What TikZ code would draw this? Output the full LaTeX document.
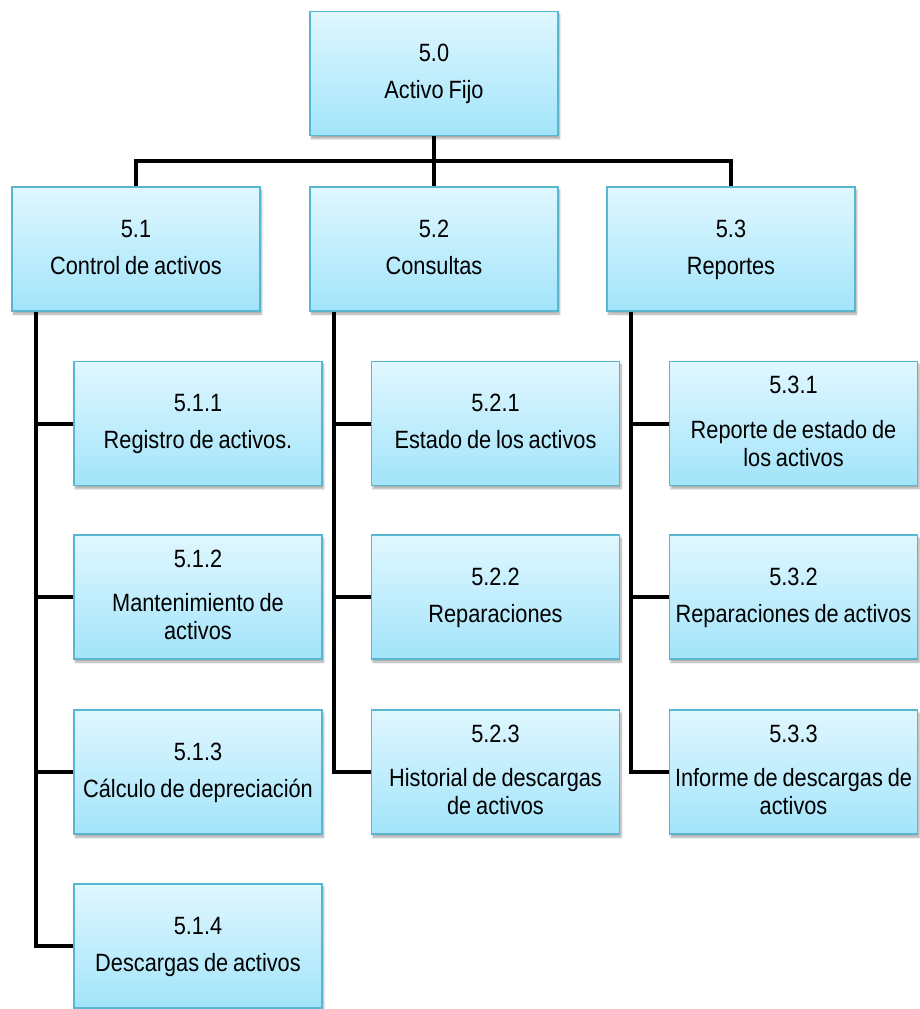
\documentclass[tikz,border=0pt]{standalone}
\usepackage{fontspec}
\setmainfont[FakeStretch=0.87, WordSpace=0.8]{Liberation Sans}
\usetikzlibrary{shadows.blur}

\definecolor{boxtop}{RGB}{224,247,255}
\definecolor{boxbot}{RGB}{162,228,250}
\definecolor{boxline}{RGB}{88,182,206}

% struts that keep the text blocks of all boxes at the same height
\newcommand{\topstr}{\rule{0pt}{20pt}}
\newcommand{\botstr}{\rule[-7pt]{0pt}{7pt}}
\newcommand{\one}[2]{\topstr#1\\[9pt]#2\botstr}
\newcommand{\two}[3]{\topstr#1\\[16.5pt]#2\\#3\botstr}

\tikzset{
  wbs/.style={draw=boxline, line width=1.2pt, top color=boxtop, bottom color=boxbot,
    minimum width=248pt, minimum height=124pt, inner sep=0pt,
    align=center, font=\fontsize{25}{28}\selectfont,
    blur shadow={shadow xshift=1.5pt, shadow yshift=-3pt, shadow blur steps=6, shadow opacity=35}},
  link/.style={line width=4pt, draw=black},
}

\begin{document}
\begin{tikzpicture}[x=1pt, y=-1pt]
  \useasboundingbox (0,0) rectangle (920,1009);

  % root and first level
  \node[wbs] (n50) at (434,73.5) {\one{5.0}{Activo Fijo}};
  \node[wbs] (n51) at (136,249) {\one{5.1}{Control de activos}};
  \node[wbs] (n52) at (434,249) {\one{5.2}{Consultas}};
  \node[wbs] (n53) at (731,249) {\one{5.3}{Reportes}};

  % control de activos
  \node[wbs] (n511) at (198,423.5) {\one{5.1.1}{Registro de activos.}};
  \node[wbs] (n512) at (198,597) {\two{5.1.2}{Mantenimiento de}{activos}};
  \node[wbs] (n513) at (198,772) {\one{5.1.3}{C\'alculo de depreciaci\'on}};
  \node[wbs] (n514) at (198,946) {\one{5.1.4}{Descargas de activos}};

  % consultas
  \node[wbs] (n521) at (495.5,423.5) {\one{5.2.1}{Estado de los activos}};
  \node[wbs] (n522) at (495.5,597) {\one{5.2.2}{Reparaciones}};
  \node[wbs] (n523) at (495.5,772) {\two{5.2.3}{Historial de descargas}{de activos}};

  % reportes
  \node[wbs] (n531) at (793.5,423.5) {\two{5.3.1}{Reporte de estado de}{los activos}};
  \node[wbs] (n532) at (793.5,597) {\one{5.3.2}{Reparaciones de activos}};
  \node[wbs] (n533) at (793.5,772) {\two{5.3.3}{Informe de descargas de}{activos}};

  % root to first level
  \coordinate (bus) at (434,161);
  \draw[link] (n50.south) -- (n52.north);
  \draw[link] (n51.north) |- (bus) -| (n53.north);

  % spines of each column
  \coordinate (s1) at ([xshift=25pt]n51.south west);
  \coordinate (s2) at ([xshift=25pt]n52.south west);
  \coordinate (s3) at ([xshift=25pt]n53.south west);

  \draw[link] (s1) |- (n514.west);
  \draw[link] (s1 |- n511.west) -- (n511.west);
  \draw[link] (s1 |- n512.west) -- (n512.west);
  \draw[link] (s1 |- n513.west) -- (n513.west);

  \draw[link] (s2) |- (n523.west);
  \draw[link] (s2 |- n521.west) -- (n521.west);
  \draw[link] (s2 |- n522.west) -- (n522.west);

  \draw[link] (s3) |- (n533.west);
  \draw[link] (s3 |- n531.west) -- (n531.west);
  \draw[link] (s3 |- n532.west) -- (n532.west);
\end{tikzpicture}
\end{document}
